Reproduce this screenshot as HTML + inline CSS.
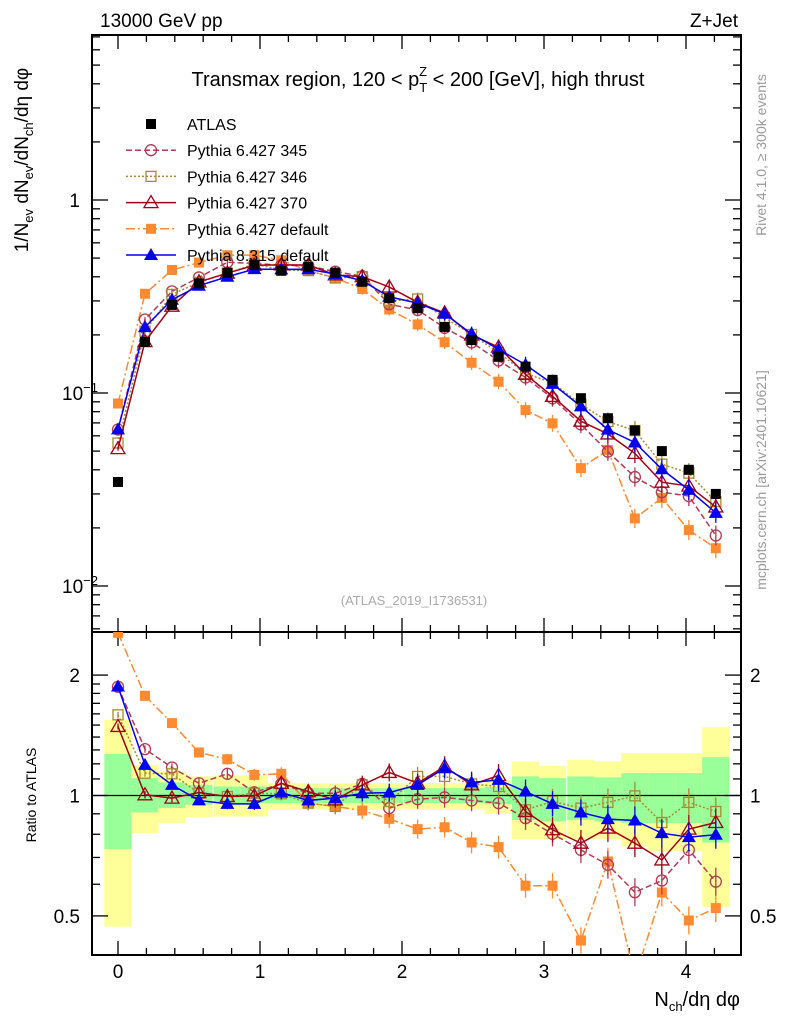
<!DOCTYPE html>
<html><head><meta charset="utf-8"><style>
html,body{margin:0;padding:0;background:#fff;}
svg{display:block;font-family:"Liberation Sans",sans-serif;}
</style></head><body>
<svg id="chart" width="786" height="1024" viewBox="0 0 786 1024" xmlns="http://www.w3.org/2000/svg">
<g id="bands"></g>
<g id="axes"></g>
<g id="series"></g>
<text x="100" y="27" font-size="19">13000 GeV pp</text>
<text x="738" y="27" font-size="19" text-anchor="end">Z+Jet</text>
<text x="418" y="86" font-size="20" text-anchor="middle">Transmax region, 120 &lt; p<tspan font-size="13" dy="6">T</tspan><tspan font-size="13" dx="-8" dy="-16">Z</tspan><tspan dy="10"> &lt; 200 [GeV], high thrust</tspan></text>
<text x="414" y="605" font-size="13" fill="#aaa" text-anchor="middle">(ATLAS_2019_I1736531)</text>
<text transform="translate(766,155) rotate(-90)" font-size="14" fill="#999" text-anchor="middle">Rivet 4.1.0, ≥ 300k events</text>
<text transform="translate(766,480) rotate(-90)" font-size="14" fill="#999" text-anchor="middle">mcplots.cern.ch [arXiv:2401.10621]</text>
<text transform="translate(28,160) rotate(-90)" font-size="19" text-anchor="middle">1/N<tspan font-size="13" dy="5">ev</tspan><tspan dy="-5"> dN</tspan><tspan font-size="13" dy="5">ev</tspan><tspan dy="-5">/dN</tspan><tspan font-size="13" dy="5">ch</tspan><tspan dy="-5">/dη dφ</tspan></text>
<text transform="translate(36,795) rotate(-90)" font-size="14" text-anchor="middle">Ratio to ATLAS</text>
<text x="740" y="1006" font-size="20" text-anchor="end">N<tspan font-size="13" dy="5">ch</tspan><tspan dy="-5">/dη dφ</tspan></text>
<g id="legend"></g>
</svg>
<script>
const xVals = [0,0.19,0.38,0.57,0.77,0.96,1.15,1.34,1.53,1.72,1.91,2.11,2.3,2.49,2.68,2.87,3.06,3.26,3.45,3.64,3.83,4.02,4.21];
const atlas = [0.0346,0.184,0.286,0.37,0.42,0.46,0.43,0.45,0.42,0.377,0.31,0.275,0.22,0.188,0.154,0.137,0.117,0.094,0.074,0.064,0.05,0.040,0.030];
const r345 = [1.87,1.306,1.175,1.073,1.133,1.019,1.069,1.013,1.013,1.069,0.93,0.979,0.989,0.972,0.957,0.878,0.802,0.731,0.671,0.573,0.613,0.731,0.609];
const r346 = [1.591,1.137,1.133,1.013,0.994,1.013,1.01,0.957,0.939,1.063,0.966,1.116,1.116,1.069,1.053,0.921,0.966,0.93,0.961,0.998,0.856,0.961,0.912];
const r370 = [1.488,1.004,0.985,1.017,0.994,0.998,1.073,1.023,0.975,1.063,1.142,1.073,1.182,1.063,1.122,0.912,0.821,0.76,0.829,0.76,0.69,0.824,0.856];
const rDef = [2.55,1.775,1.517,1.281,1.232,1.126,1.133,0.957,0.939,0.917,0.874,0.824,0.833,0.763,0.743,0.595,0.595,0.434,0.684,0.35,0.572,0.487,0.523];
const rPy8 = [1.873,1.193,1.063,0.972,0.953,0.953,1.017,0.972,0.985,1.013,1.017,1.063,1.17,1.078,1.094,1.023,0.953,0.907,0.873,0.866,0.805,0.787,0.798];
const yelHi = [1.546,1.193,1.148,1.116,1.122,1.122,1.073,1.073,1.073,1.073,1.073,1.073,1.073,1.073,1.09,1.216,1.186,1.228,1.216,1.276,1.276,1.276,1.482];
const yelLo = [0.47,0.805,0.853,0.883,0.886,0.886,0.921,0.921,0.921,0.921,0.921,0.921,0.921,0.921,0.9,0.778,0.778,0.778,0.778,0.746,0.725,0.725,0.526];
const grnHi = [1.271,1.105,1.078,1.063,1.053,1.053,1.043,1.043,1.043,1.043,1.043,1.043,1.043,1.043,1.05,1.116,1.105,1.116,1.11,1.137,1.137,1.137,1.247];
const grnLo = [0.734,0.907,0.93,0.948,0.957,0.957,0.957,0.957,0.957,0.957,0.957,0.957,0.957,0.957,0.95,0.869,0.861,0.869,0.861,0.853,0.853,0.853,0.763];
const xTicks = [0,1,2,3,4];
const mainTicks = [0.01,0.1,1];
const ratioTicks = [0.5,1,2];

const NS="http://www.w3.org/2000/svg";
const L=92,R=741,T=35,MB=632,RB=955;
const X=v=>118+142*v;
const Ym=v=>200-193*Math.log10(v);
const Yr=v=>795.5-400*Math.log10(v);
function mk(tag,attrs,parent){const e=document.createElementNS(NS,tag);for(const k in attrs)e.setAttribute(k,attrs[k]);parent.appendChild(e);return e;}
const axes=document.getElementById('axes'),bands=document.getElementById('bands'),ser=document.getElementById('series'),leg=document.getElementById('legend');

// bands
for(let i=0;i<xVals.length;i++){
  const x0=X(xVals[i]-0.096),x1=X(xVals[i]+0.096);
  let r=mk('rect',{x:x0,y:Yr(yelHi[i]),width:x1-x0,height:Yr(yelLo[i])-Yr(yelHi[i]),fill:'#ffff99'},bands);
  
  
  r=mk('rect',{x:x0,y:Yr(grnHi[i]),width:x1-x0,height:Yr(grnLo[i])-Yr(grnHi[i]),fill:'#99ff99'},bands);
  
  
}
// frames
mk('rect',{x:L,y:T,width:R-L,height:MB-T,fill:'none',stroke:'#000','stroke-width':2},axes);
mk('rect',{x:L,y:MB,width:R-L,height:RB-MB,fill:'none',stroke:'#000','stroke-width':2},axes);
mk('line',{x1:L,x2:R,y1:Yr(1),y2:Yr(1),stroke:'#000','stroke-width':1.3},axes);
// x ticks
for(let v=0;v<=4.3;v+=0.2){const maj=Math.abs(v-Math.round(v))<1e-6;const len=maj?14:7;
  for(const [yb,dir] of [[MB,-1],[T,1],[RB,-1],[MB,1]]) mk('line',{x1:X(v),x2:X(v),y1:yb,y2:yb+dir*len,stroke:'#000','stroke-width':1.3},axes);}
for(const t of xTicks){const e=mk('text',{x:X(t),y:978,'font-size':19,'text-anchor':'middle'},axes);e.textContent=t;
  
  }
// main y ticks
for(let d=-3;d<=0;d++)for(let m=1;m<=9;m++){const v=m*Math.pow(10,d);const y=Ym(v);if(y<T||y>MB)continue;const len=m==1?16:8;
  mk('line',{x1:L,x2:L+len,y1:y,y2:y,stroke:'#000','stroke-width':1.3},axes);mk('line',{x1:R,x2:R-len,y1:y,y2:y,stroke:'#000','stroke-width':1.3},axes);}
const mainLbl=['10','10','1'],mainExp=['−2','−1',''];
mainTicks.forEach((t,i)=>{const e=mk('text',{x:t==1?80:62,y:Ym(t)+7,'font-size':19,'text-anchor':t==1?'end':'start'},axes);
  
  
  e.textContent=mainLbl[i];if(mainExp[i]){const s=mk('tspan',{'font-size':13,dy:-8},e);s.textContent=mainExp[i];}});
// ratio ticks
for(const v of [0.5,0.6,0.7,0.8,0.9,1,1.1,1.2,1.3,1.4,1.5,1.6,1.7,1.8,1.9,2]){const y=Yr(v);const len=(v==0.5||v==1||v==2)?16:8;
  mk('line',{x1:L,x2:L+len,y1:y,y2:y,stroke:'#000','stroke-width':1.3},axes);mk('line',{x1:R,x2:R-len,y1:y,y2:y,stroke:'#000','stroke-width':1.3},axes);}
for(const t of ratioTicks){for(const [x,a] of [[80,'end'],[750,'start']]){const e=mk('text',{x:x,y:Yr(t)+7,'font-size':19,'text-anchor':a},axes);e.textContent=t;
  
  }}

// clip paths
const defs=mk('defs',{},document.getElementById('chart'));
const cm=mk('clipPath',{id:'cm'},defs);mk('rect',{x:L,y:T,width:R-L,height:MB-T},cm);
const cr=mk('clipPath',{id:'cr'},defs);mk('rect',{x:L,y:MB,width:R-L,height:RB-MB},cr);

function marker(g,type,x,y,col){
  const s=5;
  if(type=='fsq')mk('rect',{x:x-s,y:y-s,width:2*s,height:2*s,fill:col},g);
  else if(type=='osq')mk('rect',{x:x-s,y:y-s,width:2*s,height:2*s,fill:'none',stroke:col,'stroke-width':1.3},g);
  else if(type=='circ')mk('circle',{cx:x,cy:y,r:s+0.5,fill:'none',stroke:col,'stroke-width':1.3},g);
  else if(type=='otri')mk('polygon',{points:`${x},${y-7} ${x-7},${y+5} ${x+7},${y+5}`,fill:'none',stroke:col,'stroke-width':1.3},g);
  else if(type=='ftri')mk('polygon',{points:`${x},${y-7} ${x-7},${y+5} ${x+7},${y+5}`,fill:col},g);
}
const series=[
 {name:'Pythia 6.427 default',r:rDef,col:'#ff8a30',dash:'9,3,2,3',m:'fsq',key:'py6-default'},
 {name:'Pythia 6.427 345',r:r345,col:'#b23a55',dash:'6,3',m:'circ',key:'py6-345'},
 {name:'Pythia 6.427 346',r:r346,col:'#a88a30',dash:'2,2',m:'osq',key:'py6-346'},
 {name:'Pythia 6.427 370',r:r370,col:'#a00018',dash:'',m:'otri',key:'py6-370'},
 {name:'Pythia 8.315 default',r:rPy8,col:'#0000ee',dash:'',m:'ftri',key:'py8-default'}
];
for(const s of series){
  for(const [panel,clip,f] of [['main','cm',(i)=>Ym(s.r[i]*atlas[i])],['ratio','cr',(i)=>Yr(s.r[i])]]){
    const g=mk('g',{'clip-path':`url(#${clip})`},ser);
    
    
    const pts=xVals.map((x,i)=>X(x)+','+f(i)).join(' ');
    mk('polyline',{points:pts,fill:'none',stroke:s.col,'stroke-width':1.5,'stroke-dasharray':s.dash},g);
    xVals.forEach((x,i)=>{const y=f(i);const e=panel=='ratio'?Math.min(14,3+i*0.6):Math.min(10,2+i*0.4);
      mk('line',{x1:X(x),x2:X(x),y1:y-e,y2:y+e,stroke:s.col,'stroke-width':1.3},g);
      marker(g,s.m,X(x),y,s.col);});
  }
}
// ATLAS data
const ga=mk('g',{'clip-path':'url(#cm)'},ser);


xVals.forEach((x,i)=>marker(ga,'fsq',X(x),Ym(atlas[i]),'#000'));

// legend
const legItems=[{name:'ATLAS',col:'#000',dash:'',m:'fsq',line:false}].concat([series[1],series[2],series[3],series[0],series[4]].map(s=>Object.assign({line:true},s)));
legItems.forEach((s,i)=>{const y=124+i*26.2;const g=mk('g',{},leg);
  
  
  if(s.line)mk('line',{x1:126,x2:176,y1:y,y2:y,stroke:s.col,'stroke-width':1.5,'stroke-dasharray':s.dash},g);
  marker(g,s.m,151,y,s.col);
  const t=mk('text',{x:187,y:y+6,'font-size':16},g);t.textContent=s.name;});
</script>
</body></html>
